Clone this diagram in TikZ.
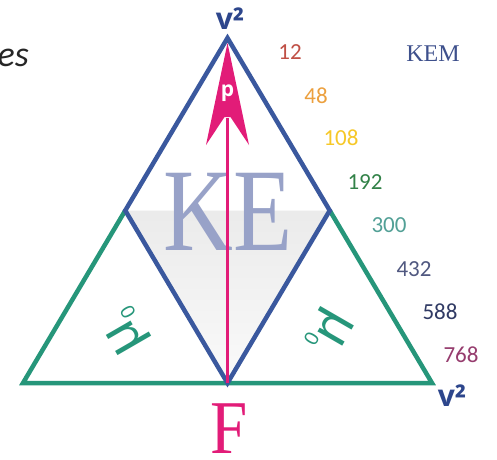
\documentclass[tikz,border=0pt]{standalone}
\usepackage{fontspec}
\setmainfont{Liberation Serif}
\newfontfamily\numf{Carlito}
\newfontfamily\vfont{Open Sans}
\newfontfamily\musf{Liberation Sans}
\definecolor{bluel}{RGB}{58,88,158}
\definecolor{greenl}{RGB}{38,150,122}
\definecolor{pinkl}{RGB}{226,28,120}
\definecolor{kecol}{RGB}{152,162,200}
\definecolor{vcol}{RGB}{45,70,140}
\definecolor{kemcol}{RGB}{62,80,140}
\definecolor{c12}{RGB}{192,80,70}
\definecolor{c48}{RGB}{236,160,62}
\definecolor{c108}{RGB}{246,200,40}
\definecolor{c192}{RGB}{50,130,72}
\definecolor{c300}{RGB}{82,160,150}
\definecolor{c432}{RGB}{80,88,128}
\definecolor{c588}{RGB}{48,58,100}
\definecolor{c768}{RGB}{150,60,110}
\tikzset{
  blueline/.style={draw=bluel, line width=4.5pt, line join=miter},
  greenline/.style={draw=greenl, line width=4.5pt, line join=miter},
  num/.style={font=\numf\fontsize{23}{23}\selectfont, inner sep=0pt},
  vlab/.style={font=\vfont\bfseries\fontsize{30}{30}\selectfont, text=vcol, inner sep=0pt},
  mulab/.style={text=greenl, inner sep=0pt},
}
\begin{document}
\begin{tikzpicture}[x=1pt,y=-1pt]
\useasboundingbox (0,0) rectangle (497,459);
\fill[white] (0,0) rectangle (497,459);
\coordinate (A) at (227.5,38);
\coordinate (L) at (23,383);
\coordinate (R) at (432,383);
\coordinate (ML) at (125.25,210.5);
\coordinate (MR) at (329.75,210.5);
\coordinate (B) at (227.5,383);
% shaded lower half of diamond
\shade[top color=gray!16, bottom color=gray!4] (ML) -- (MR) -- (B) -- cycle;
% KE
\node[font=\fontsize{118}{118}\selectfont, text=kecol, xscale=0.82, anchor=base, inner sep=0pt] (ke) at (228,250) {KE};
% green triangles
\draw[greenline] (ML) -- (L) -- (R) -- (MR);
% blue diamond
\draw[blueline] (A) -- (ML) -- (B) -- (MR) -- cycle;
% pink arrow
\coordinate (tip) at (227.5,43);
\coordinate (neck) at (227.5,118);
\draw[pinkl, line width=2.2pt] (B) -- (neck);
\fill[pinkl] (tip) -- (249,145) -- (230.5,117) -- (224.5,117) -- (206,145) -- cycle;
\node[text=white, font=\vfont\bfseries\fontsize{21}{21}\selectfont, inner sep=0pt] (p) at (227.5,93) {p};
% mu labels
\node[mulab, rotate=120] (mul) at (126,331) {\musf\fontsize{54}{54}\selectfont μ\raisebox{-9pt}{\fontsize{20}{20}\selectfont 0}};
\node[mulab, rotate=-120] (mur) at (329,331) {\musf\fontsize{54}{54}\selectfont μ\raisebox{-9pt}{\fontsize{20}{20}\selectfont 0}};
% vertex labels
\node[vlab] (vtop) at (230,19) {v²};
\node[vlab] (vright) at (452,396) {v²};
\node[font=\fontsize{76}{76}\selectfont, text=pinkl, anchor=base, inner sep=0pt, xscale=0.88] (F) at (229,453) {F};
% numbers
\node[num, text=c12] (n12) at (290,52) {12};
\node[num, text=c48] (n48) at (316,96) {48};
\node[num, text=c108] (n108) at (341,138) {108};
\node[num, text=c192] (n192) at (365,182) {192};
\node[num, text=c300] (n300) at (389,225) {300};
\node[num, text=c432] (n432) at (414,269) {432};
\node[num, text=c588] (n588) at (440,312) {588};
\node[num, text=c768] (n768) at (461,355) {768};
\node[font=\fontsize{24}{24}\selectfont, text=kemcol, inner sep=0pt] (kem) at (433,54) {KEM};
% cut-off word at left
\node[font=\numf\itshape\fontsize{36}{36}\selectfont, text=black!85, anchor=base east, inner sep=0pt] (es) at (29,66) {es};
\end{tikzpicture}
\end{document}
